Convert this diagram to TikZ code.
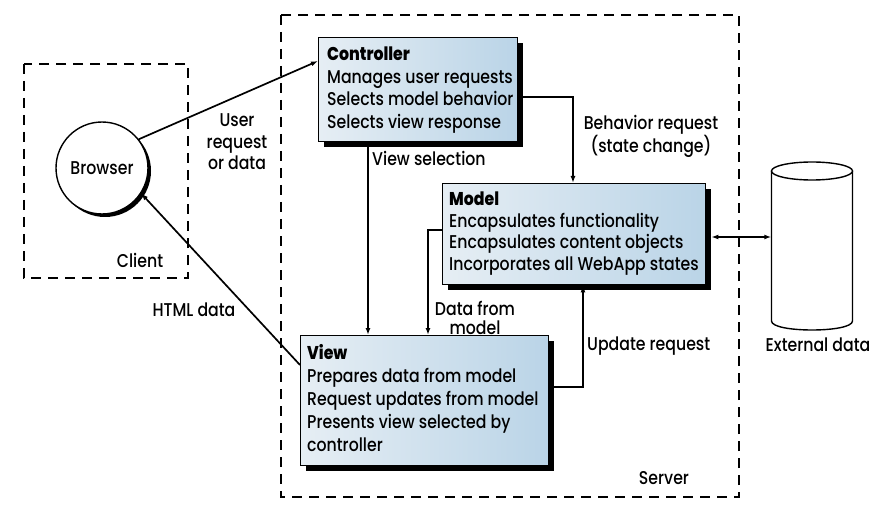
\documentclass[tikz,border=0pt]{standalone}
\usepackage{fontspec}
\setmainfont{Poppins}[UprightFont=* Medium, BoldFont=* ExtraBold, FakeStretch=0.85]
\usetikzlibrary{arrows.meta,shadows,calc}
\definecolor{boxL}{HTML}{E6EEF4}
\definecolor{boxR}{HTML}{BAD4E7}
\begin{document}
\begin{tikzpicture}[x=1pt,y=-1pt,
  txt/.style={font=\fontsize{18.5}{22.5}\selectfont, inner sep=0pt},
  lbl/.style={txt, text height=13.5pt, text depth=4pt},
  box/.style={draw=black, line width=1.4pt, left color=boxL, right color=boxR,
    general shadow={fill=black, shadow xshift=5pt, shadow yshift=-5pt},
    anchor=north west, inner sep=0pt},
  btxt/.style={txt, align=left, anchor=north west},
  arr/.style={line width=1.7pt, -{Latex[length=7pt,width=5pt]}},
  darr/.style={line width=1.7pt, {Latex[length=7pt,width=5pt]}-{Latex[length=7pt,width=5pt]}},
  dbox/.style={line width=1.2pt, dash pattern=on 10pt off 7pt},
]
\useasboundingbox (0,0) rectangle (879,508);
\fill[white] (0,0) rectangle (879,508);

% dashed regions
\draw[dbox] (281,15) rectangle (739,497);
\draw[dbox] (24,64) rectangle (188,278);

% browser
\node[circle, draw, line width=1.4pt, fill=white, minimum size=92pt,
  general shadow={fill=black, shadow xshift=3pt, shadow yshift=-3pt},
  font=\fontsize{18.5}{22.5}\selectfont, inner sep=0pt] (browser) at (102,168) {Browser};

% boxes
\node[box, minimum width=199pt, minimum height=104pt] (ctrl) at (318,37) {};
\node[btxt] (ctrlT) at ([xshift=9pt,yshift=-10pt]ctrl.north west)
  {\textbf{Controller}\\Manages user requests\\Selects model behavior\\Selects view response};

\node[box, minimum width=263pt, minimum height=101pt] (model) at (442,183) {};
\node[btxt, font=\fontsize{18.5}{21.5}\selectfont] (modelT) at ([xshift=7pt,yshift=-9pt]model.north west)
  {\textbf{Model}\\Encapsulates functionality\\Encapsulates content objects\\Incorporates all WebApp states};

\node[box, minimum width=248pt, minimum height=130pt] (view) at (300,335) {};
\node[btxt, font=\fontsize{18.5}{23}\selectfont] (viewT) at ([xshift=7pt,yshift=-9pt]view.north west)
  {\textbf{View}\\Prepares data from model\\Request updates from model\\Presents view selected by\\controller};

% external data cylinder
\node[minimum width=81pt, minimum height=168pt, inner sep=0pt] (ext) at (812,246) {};
\draw[line width=1.4pt, fill=white] (771.5,171) -- (771.5,321)
  .. controls (771.5,333) and (852.5,333) .. (852.5,321) -- (852.5,171);
\draw[line width=1.4pt, fill=white] (812,171) ellipse [x radius=40.5pt, y radius=9pt];

% labels
\node[txt, align=center, font=\fontsize{18.5}{21.5}\selectfont] (lUser) at (237,142) {User\\request\\or data};
\node[lbl, anchor=west] (lVS) at (372,161) {View selection};
\node[txt, align=center, font=\fontsize{18.5}{22}\selectfont] (lBR) at (651,136) {Behavior request\\(state change)};
\node[lbl] (lHTML) at (194,312) {HTML data};
\node[txt, align=center, font=\fontsize{18.5}{19}\selectfont] (lDFM) at (475,318) {Data from\\model};
\node[lbl, anchor=west] (lUR) at (587,346) {Update request};
\node[lbl] (lClient) at (140,263) {Client};
\node[lbl] (lServer) at (664,480) {Server};
\node[lbl] (lExt) at (818,347) {External data};

% connectors
\draw[arr] (browser.38) -- ([yshift=-24pt]ctrl.north west);
\draw[arr] ([yshift=-30pt]view.north west) -- (browser.-33);
\coordinate (vsx) at (368,0);
\draw[arr] (ctrl.south -| vsx) -- (view.north -| vsx);
\coordinate (brx) at (573,0);
\draw[arr] ([yshift=-60pt]ctrl.north east) -| (model.north -| brx);
\coordinate (dfx) at (428,0);
\draw[arr] ([yshift=-47pt]model.north west) -| (view.north -| dfx);
\coordinate (urx) at (583,0);
\draw[arr] ([yshift=-52pt]view.north east) -| (model.south -| urx);
\coordinate (mx) at ([yshift=-54pt]model.north east);
\draw[darr] ([xshift=5pt]mx) -- (ext.west |- mx);
\end{tikzpicture}
\end{document}
